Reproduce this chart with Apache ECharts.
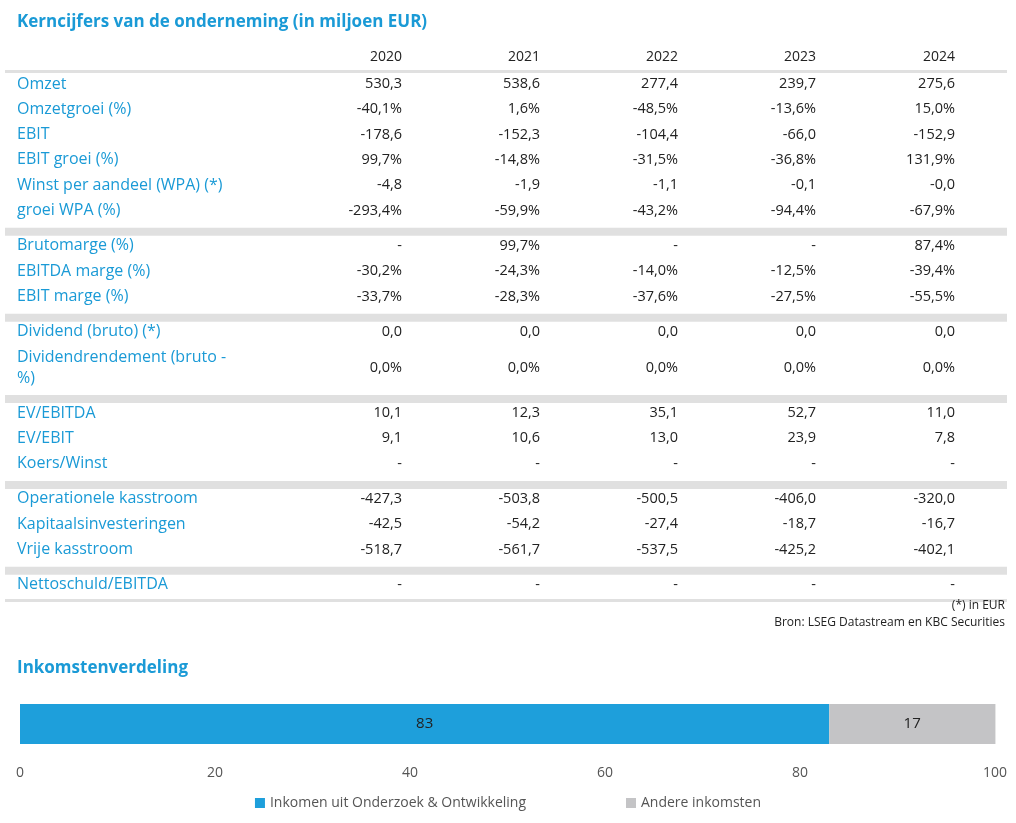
<!DOCTYPE html>
<html><head><meta charset="utf-8">
<script src="https://cdn.jsdelivr.net/npm/echarts@6/dist/echarts.min.js"></script>
<style>html,body{margin:0;background:#fff}#main{width:1016px;height:823px}</style>
</head><body><div id="main"></div>
<script>
var years = ['2020', '2021', '2022', '2023', '2024'];
// groups of rows; each row: label, values
var groups = [
	[
		['Omzet', ['530,3', '538,6', '277,4', '239,7', '275,6']],
		['Omzetgroei (%)', ['-40,1%', '1,6%', '-48,5%', '-13,6%', '15,0%']],
		['EBIT', ['-178,6', '-152,3', '-104,4', '-66,0', '-152,9']],
		['EBIT groei (%)', ['99,7%', '-14,8%', '-31,5%', '-36,8%', '131,9%']],
		['Winst per aandeel (WPA) (*)', ['-4,8', '-1,9', '-1,1', '-0,1', '-0,0']],
		['groei WPA (%)', ['-293,4%', '-59,9%', '-43,2%', '-94,4%', '-67,9%']]
	],
	[
		['Brutomarge (%)', ['-', '99,7%', '-', '-', '87,4%']],
		['EBITDA marge (%)', ['-30,2%', '-24,3%', '-14,0%', '-12,5%', '-39,4%']],
		['EBIT marge (%)', ['-33,7%', '-28,3%', '-37,6%', '-27,5%', '-55,5%']]
	],
	[
		['Dividend (bruto) (*)', ['0,0', '0,0', '0,0', '0,0', '0,0']],
		['Dividendrendement (bruto -\n%)', ['0,0%', '0,0%', '0,0%', '0,0%', '0,0%']]
	],
	[
		['EV/EBITDA', ['10,1', '12,3', '35,1', '52,7', '11,0']],
		['EV/EBIT', ['9,1', '10,6', '13,0', '23,9', '7,8']],
		['Koers/Winst', ['-', '-', '-', '-', '-']]
	],
	[
		['Operationele kasstroom', ['-427,3', '-503,8', '-500,5', '-406,0', '-320,0']],
		['Kapitaalsinvesteringen', ['-42,5', '-54,2', '-27,4', '-18,7', '-16,7']],
		['Vrije kasstroom', ['-518,7', '-561,7', '-537,5', '-425,2', '-402,1']]
	],
	[
		['Nettoschuld/EBITDA', ['-', '-', '-', '-', '-']]
	]
];
var incomeNames = ['Inkomen uit Onderzoek & Ontwikkeling', 'Andere inkomsten'];
var incomeValues = [83, 17];

var blue = '#1a9ad6', dark = '#222', font = '"Open Sans", sans-serif';
var colX = [402, 540, 678, 816, 955];
var g = [];
function txt(x, y, s, opt) {
	g.push({type: 'text', x: x, y: y, style: Object.assign({text: s, font: '15px ' + font, fill: dark, textAlign: 'left', textVerticalAlign: 'middle'}, opt || {})});
}
function band(y, h) {
	g.push({type: 'rect', shape: {x: 5, y: y, width: 1002, height: h}, style: {fill: '#e0e0e0'}});
}
txt(17, 22, 'Kerncijfers van de onderneming (in miljoen EUR)', {font: 'bold 17px ' + font, fill: blue});
years.forEach(function (yr, i) { txt(colX[i], 57, yr, {textAlign: 'right', font: '14px ' + font}); });
band(70, 3);
var y = 84;
groups.forEach(function (rows, gi) {
	rows.forEach(function (r) {
		var two = r[0].indexOf('\n') >= 0;
		var cy = two ? y + 11 : y;
		if (two) {
			txt(17, y, r[0].split('\n')[0], {fill: blue, font: '16px ' + font});
			txt(17, y + 21, r[0].split('\n')[1], {fill: blue, font: '16px ' + font});
		} else txt(17, y, r[0], {fill: blue, font: '16px ' + font});
		r[1].forEach(function (v, i) { txt(colX[i], cy, v, {textAlign: 'right', font: '14.5px ' + font}); });
		y += two ? 46 : 25.3;
	});
	if (gi < groups.length - 1) { band(y - 8, 8); y += 10; }
	else band(y - 11, 3);
});
txt(1005, 606, '(*) in EUR', {textAlign: 'right', font: '12px ' + font});
txt(1005, 623, 'Bron: LSEG Datastream en KBC Securities', {textAlign: 'right', font: '12px ' + font});
txt(17, 668, 'Inkomstenverdeling', {font: 'bold 17px ' + font, fill: blue});

var colors = ['#1e9fdb', '#c4c4c6'];
var myChart = echarts.init(document.getElementById('main'));
var option = {
	animation: false,
	textStyle: {fontFamily: font},
	graphic: g,
	grid: {left: 20, right: 21, top: 704, height: 40},
	legend: {bottom: 8, left: 'center', itemWidth: 10, itemHeight: 10, itemGap: 100, icon: 'rect',
		textStyle: {color: '#555', fontSize: 14}, data: incomeNames},
	xAxis: {type: 'value', min: 0, max: 100, interval: 20,
		axisLine: {show: false}, axisTick: {show: false},
		splitLine: {lineStyle: {color: '#e6e6e6'}},
		axisLabel: {color: '#555', fontSize: 14, margin: 22}},
	yAxis: {type: 'category', data: [''], show: false},
	series: incomeNames.map(function (n, i) {
		return {name: n, type: 'bar', stack: 'a', barWidth: 40, data: [incomeValues[i]],
			itemStyle: {color: colors[i]},
			label: {show: true, position: 'inside', color: '#222', fontSize: 15}};
	})
};
myChart.setOption(option);
</script>
</body></html>
